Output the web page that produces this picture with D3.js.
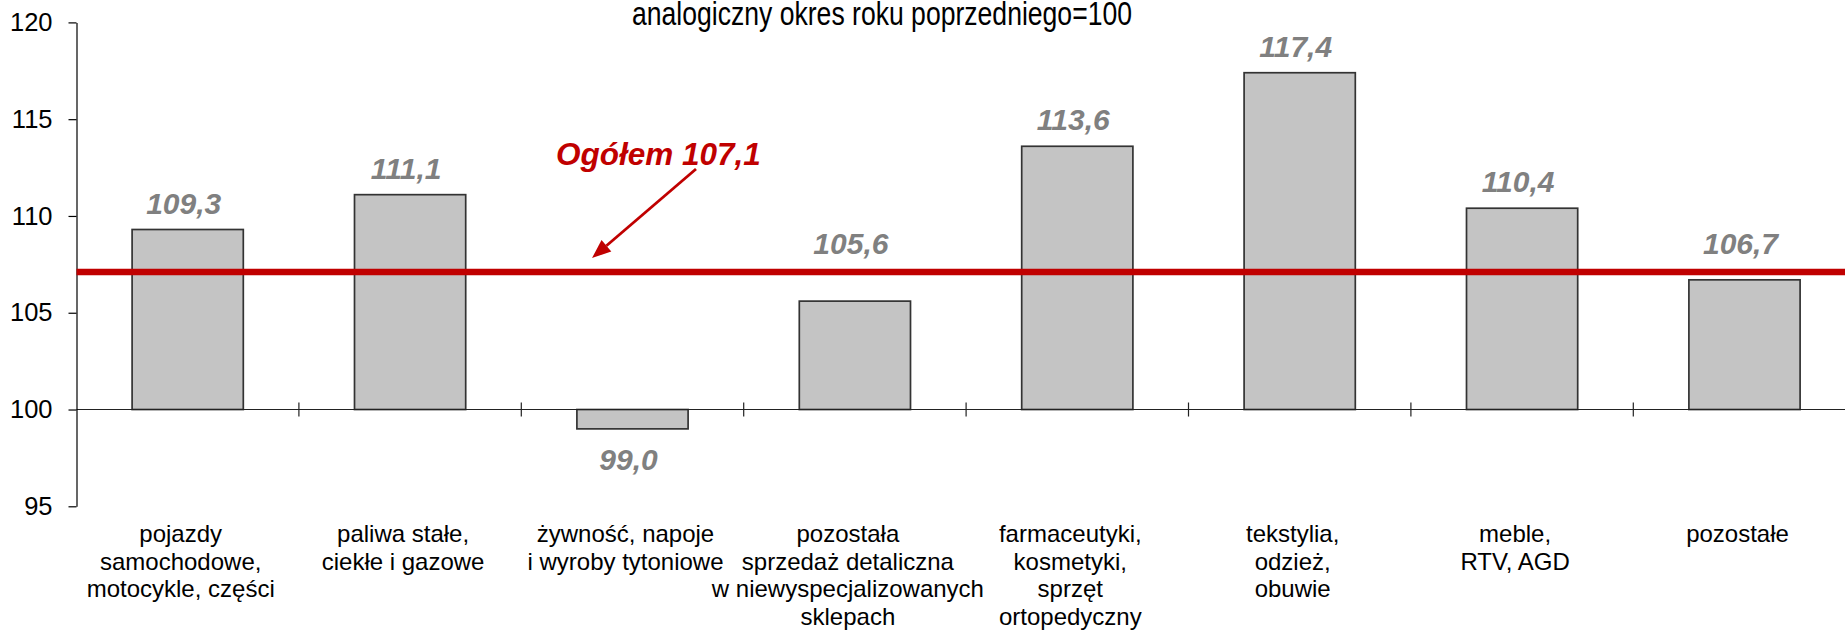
<!DOCTYPE html>
<html>
<head>
<meta charset="utf-8">
<script src="https://cdn.jsdelivr.net/npm/d3@7"></script>
<style>
  body { margin: 0; background: #fff; }
  svg text { font-family: "Liberation Sans", Arial, Helvetica, sans-serif; }
</style>
</head>
<body>
<svg id="chart" width="1845" height="630"></svg>
<script>
// Retail sales by group, same period of previous year = 100
const categories = [
  "pojazdy\nsamochodowe,\nmotocykle, części",
  "paliwa stałe,\nciekłe i gazowe",
  "żywność, napoje\ni wyroby tytoniowe",
  "pozostała\nsprzedaż detaliczna\nw niewyspecjalizowanych\nsklepach",
  "farmaceutyki,\nkosmetyki,\nsprzęt\nortopedyczny",
  "tekstylia,\nodzież,\nobuwie",
  "meble,\nRTV, AGD",
  "pozostałe"
];
const values = [109.3, 111.1, 99.0, 105.6, 113.6, 117.4, 110.4, 106.7];
const yTicks = [95, 100, 105, 110, 115, 120];
const baseValue = 100;
const totalValue = 107.1;
const totalLabel = "Ogółem 107,1";
const titleText = "analogiczny okres roku poprzedniego=100";

const W = 1845, H = 630;
const svg = d3.select("#chart");

const plotLeft = 76.5, plotTop = 22.4, plotBottom = 506.3;
const step = 222.4;

const y = d3.scaleLinear().domain([95, 120]).range([plotBottom, plotTop]);
const x = d3.scaleBand()
  .domain(d3.range(categories.length))
  .range([plotLeft, plotLeft + step * categories.length])
  .paddingInner(0.5)
  .paddingOuter(0.25);

const fmt = v => d3.format(".1f")(v).replace(".", ",");
const yt = y(totalValue);

// title (second line of the heading, condensed)
svg.append("text")
  .attr("x", 632)
  .attr("y", 25)
  .attr("font-size", 34)
  .attr("textLength", 500)
  .attr("lengthAdjust", "spacingAndGlyphs")
  .attr("fill", "#000")
  .text(titleText);

// bars
svg.append("g").selectAll("rect")
  .data(values)
  .join("rect")
  .attr("x", (d, i) => x(i))
  .attr("width", x.bandwidth())
  .attr("y", d => y(Math.max(d, baseValue)))
  .attr("height", d => Math.abs(y(d) - y(baseValue)))
  .attr("fill", "#c4c4c4")
  .attr("stroke", "#333")
  .attr("stroke-width", 1.7);

// horizontal category axis at 100
const y0 = y(baseValue);
svg.append("line")
  .attr("x1", plotLeft).attr("x2", W)
  .attr("y1", y0).attr("y2", y0)
  .attr("stroke", "#222").attr("stroke-width", 1.2);

const boundaries = d3.range(1, categories.length + 1).map(i => x(0) - x.step() * 0.25 + i * x.step());
svg.append("g").selectAll("line")
  .data(boundaries)
  .join("line")
  .attr("x1", d => d).attr("x2", d => d)
  .attr("y1", y0 - 7).attr("y2", y0 + 7)
  .attr("stroke", "#222").attr("stroke-width", 1.2);

// category labels
const lab = svg.append("g").selectAll("text")
  .data(categories)
  .join("text")
  .attr("x", (d, i) => x(i) + x.bandwidth() / 2 - 7)
  .attr("y", 542)
  .attr("text-anchor", "middle")
  .attr("font-size", 24)
  .attr("fill", "#000");
lab.each(function(d) {
  const t = d3.select(this);
  d.split("\n").forEach((line, k) => {
    t.append("tspan")
      .attr("x", t.attr("x"))
      .attr("dy", k === 0 ? 0 : 27.5)
      .text(line);
  });
});

// value labels; those that would sit on the overall line are lifted above it
svg.append("g").selectAll("text")
  .data(values)
  .join("text")
  .attr("x", (d, i) => x(i) + x.bandwidth() / 2 - 4)
  .attr("y", d => d >= baseValue ? Math.min(y(d) - 16, (y(d) - 16 > yt - 30) ? yt - 18 : Infinity) : y(d) + 41)
  .attr("text-anchor", "middle")
  .attr("font-size", 30)
  .attr("font-weight", "bold")
  .attr("font-style", "italic")
  .attr("fill", "#808080")
  .text(d => fmt(d));

// vertical axis
const yAxis = d3.axisLeft(y).tickValues(yTicks).tickSize(8).tickSizeOuter(0).tickPadding(16);
const gy = svg.append("g")
  .attr("transform", `translate(${plotLeft},0)`)
  .call(yAxis);
gy.select(".domain").attr("stroke", "#000").attr("stroke-width", 1.2);
gy.selectAll(".tick line").attr("stroke", "#000").attr("stroke-width", 1.2);
gy.selectAll(".tick text")
  .attr("font-size", 25.5)
  .attr("fill", "#000")
  .attr("font-family", "'Liberation Sans', Arial, sans-serif");

// overall index line
svg.append("line")
  .attr("x1", plotLeft).attr("x2", W)
  .attr("y1", yt).attr("y2", yt)
  .attr("stroke", "#c00000")
  .attr("stroke-width", 6.5);

// overall label with arrow
const red = "#c00000";
svg.append("text")
  .attr("x", 556)
  .attr("y", 165)
  .attr("font-size", 31.5)
  .attr("font-weight", "bold")
  .attr("font-style", "italic")
  .attr("fill", red)
  .text(totalLabel);

const ax0 = 696, ay0 = 169;
const ax1 = 592, ay1 = yt - 14;
const ang = Math.atan2(ay1 - ay0, ax1 - ax0);
const headLen = 19, headW = 7.5;
const bx = ax1 - headLen * Math.cos(ang), by = ay1 - headLen * Math.sin(ang);
svg.append("line")
  .attr("x1", ax0).attr("y1", ay0)
  .attr("x2", bx).attr("y2", by)
  .attr("stroke", red).attr("stroke-width", 2.8);
svg.append("path")
  .attr("d", d3.line()([
    [ax1, ay1],
    [bx + headW * Math.sin(ang), by - headW * Math.cos(ang)],
    [bx - headW * Math.sin(ang), by + headW * Math.cos(ang)]
  ]) + "Z")
  .attr("fill", red);
</script>
</body>
</html>
